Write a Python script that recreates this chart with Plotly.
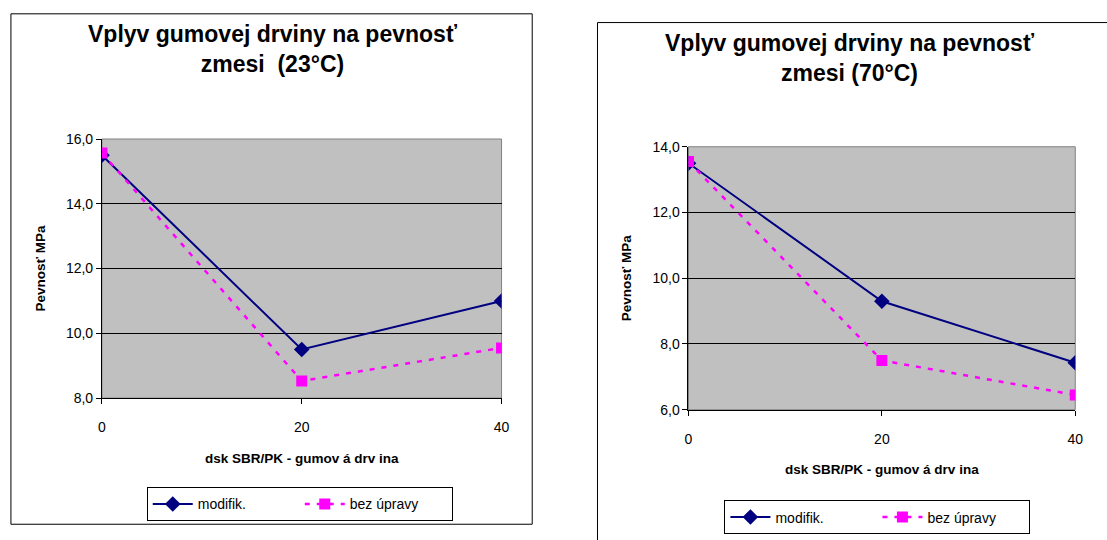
import plotly.graph_objects as go

# Data
dsk = [0, 20, 40]
modifik_23 = [15.5, 9.5, 11.0]
bez_upravy_23 = [15.57, 8.53, 9.55]
modifik_70 = [13.5, 9.3, 7.43]
bez_upravy_70 = [13.55, 7.5, 6.45]

series_names = ["modifik.", "bez úpravy"]
x_ticks = [0, 20, 40]
titles = [
    "Vplyv gumovej drviny na pevnosť<br>zmesi  (23°C)",
    "Vplyv gumovej drviny na pevnosť<br>zmesi (70°C)",
]
x_title = "dsk SBR/PK - gumov á drv ina"
y_title = "Pevnosť MPa"

W, H = 1107, 540
NAVY = "#000080"
MAGENTA = "#FF00FF"
FONT = "Liberation Sans, Arial, sans-serif"


def px_x(v):
    return v / W


def px_y(v):
    return 1 - v / H


fig = go.Figure()

panels = [
    ("x", "y", "legend", modifik_23, bez_upravy_23),
    ("x2", "y2", "legend2", modifik_70, bez_upravy_70),
]
for xa, ya, lg, mod, bez in panels:
    fig.add_trace(go.Scatter(
        x=dsk, y=mod, name=series_names[0], xaxis=xa, yaxis=ya, legend=lg,
        mode="lines+markers",
        line=dict(color=NAVY, width=2),
        marker=dict(symbol="diamond", size=12, color=NAVY),
    ))
    fig.add_trace(go.Scatter(
        x=dsk, y=bez, name=series_names[1], xaxis=xa, yaxis=ya, legend=lg,
        mode="lines+markers",
        line=dict(color=MAGENTA, width=2.5, dash="5px,7px"),
        marker=dict(symbol="square", size=11, color=MAGENTA),
    ))

xaxis_common = dict(
    range=[0, 40], tickvals=x_ticks, ticks="outside", ticklen=5,
    tickcolor="black", showline=True, linecolor="black", linewidth=1,
    showgrid=False, zeroline=False, ticklabelstandoff=11,
    tickfont=dict(family=FONT, size=14, color="black"),
    title=dict(text="<b>" + x_title + "</b>", font=dict(family=FONT, size=13.5, color="black"), standoff=19),
)
yaxis_common = dict(
    dtick=2, tickformat=".1f", ticks="outside", ticklen=5, tickcolor="black",
    showline=True, linecolor="black", linewidth=1, showgrid=True,
    gridcolor="black", gridwidth=1, zeroline=False,
    tickfont=dict(family=FONT, size=14, color="black"),
    title=dict(text="<b>" + y_title + "</b>", font=dict(family=FONT, size=13.5, color="black"), standoff=17),
)

legend_common = dict(
    orientation="h", bgcolor="white", bordercolor="black", borderwidth=1,
    font=dict(family=FONT, size=14, color="black"),
    xanchor="center", yanchor="top", entrywidth=97, itemwidth=40,
)

fig.update_layout(
    width=W, height=H, margin=dict(l=0, r=0, t=0, b=0),
    paper_bgcolor="white", plot_bgcolor="#C0C0C0",
    separators=", ",
    showlegend=True,
    xaxis=dict(domain=[px_x(99), px_x(503)], anchor="y", **xaxis_common),
    yaxis=dict(domain=[px_y(402), px_y(135)], anchor="x", range=[8, 16], **yaxis_common),
    xaxis2=dict(domain=[px_x(692), px_x(1083)], anchor="y2", **xaxis_common),
    yaxis2=dict(domain=[px_y(414), px_y(143)], anchor="x2", range=[6, 14], **yaxis_common),
    legend=dict(x=px_x(299), y=px_y(494), **legend_common),
    legend2=dict(x=px_x(883), y=px_y(507.5), **legend_common),
)

# Chart titles
for text, cx, cy in [(titles[0], 272, 42.5), (titles[1], 855, 52)]:
    fig.add_annotation(
        text="<b>" + text + "</b>", x=px_x(cx), y=px_y(cy), xref="paper", yref="paper",
        xanchor="center", yanchor="middle", showarrow=False,
        font=dict(family=FONT, size=23, color="black"),
    )

# Outer chart frames
fig.add_shape(type="rect", xref="paper", yref="paper",
              x0=px_x(7), x1=px_x(534), y0=px_y(532), y1=px_y(6),
              line=dict(color="black", width=1), layer="above")
fig.add_shape(type="rect", xref="paper", yref="paper",
              x0=px_x(600), x1=1.05, y0=-0.05, y1=px_y(15),
              line=dict(color="black", width=1), layer="above")

# Plot-area frames (grey top/right edges)
for xr, yr in [("x domain", "y domain"), ("x2 domain", "y2 domain")]:
    fig.add_shape(type="rect", xref=xr, yref=yr, x0=0, x1=1, y0=0, y1=1,
                  line=dict(color="#808080", width=1), layer="below")

fig.write_html("out.html")
